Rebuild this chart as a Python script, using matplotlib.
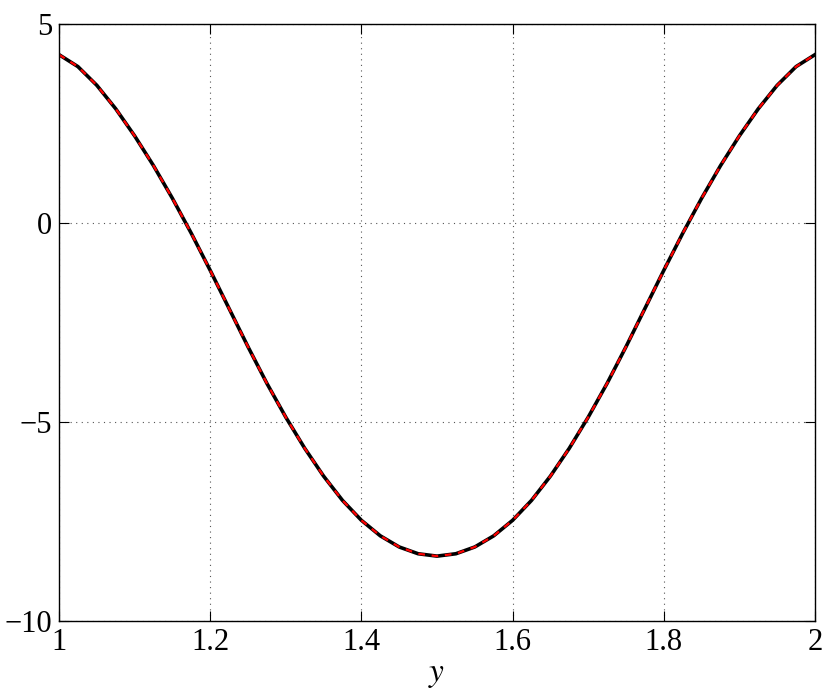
import matplotlib
matplotlib.use("Agg")
import matplotlib.pyplot as plt

# values (symmetric about y = 1.5)
y_left = [1.000, 1.025, 1.050, 1.075, 1.100, 1.125, 1.150, 1.175, 1.200, 1.225,
          1.250, 1.275, 1.300, 1.325, 1.350, 1.375, 1.400, 1.425, 1.450, 1.475, 1.500]
f_left = [4.23, 3.93, 3.46, 2.87, 2.19, 1.44, 0.62, -0.26, -1.19, -2.15,
          -3.11, -4.03, -4.88, -5.66, -6.36, -6.97, -7.47, -7.86, -8.14, -8.31, -8.37]

y_vals = y_left + [round(3.0 - v, 3) for v in y_left[-2::-1]]
f_vals = f_left + f_left[-2::-1]

xticks = [1, 1.2, 1.4, 1.6, 1.8, 2]
xticklabels = ["1", "1.2", "1.4", "1.6", "1.8", "2"]
yticks = [-10, -5, 0, 5]
yticklabels = ["\u221210", "\u22125", "0", "5"]

plt.rcParams['font.family'] = 'serif'
plt.rcParams['font.serif'] = ['Liberation Serif', 'DejaVu Serif']
plt.rcParams['mathtext.fontset'] = 'stix'

fig = plt.figure(figsize=(8.3, 6.9), dpi=100)
ax = fig.add_axes([0.0711, 0.1, 0.9108, 0.8652])

# black solid curve with red dashed curve on top
ax.plot(y_vals, f_vals, color='black', lw=2.6, solid_joinstyle='round')
ax.plot(y_vals, f_vals, color='#ff0000', lw=1.6, ls=(0, (3, 3)),
        dash_joinstyle='round')

ax.set_xlim(1, 2)
ax.set_ylim(-10, 5)
ax.set_xticks(xticks)
ax.set_xticklabels(xticklabels)
ax.set_yticks(yticks)
ax.set_yticklabels(yticklabels)

ax.grid(True, ls=(0, (1, 4)), color='#555555', lw=0.8)
ax.tick_params(direction='in', length=7, width=0.8, top=True, right=True,
               labelsize=22, pad=5)
for s in ax.spines.values():
    s.set_linewidth(1.0)

ax.set_xlabel("$y$", fontsize=24, labelpad=2)

fig.savefig("out.png", dpi=100)
